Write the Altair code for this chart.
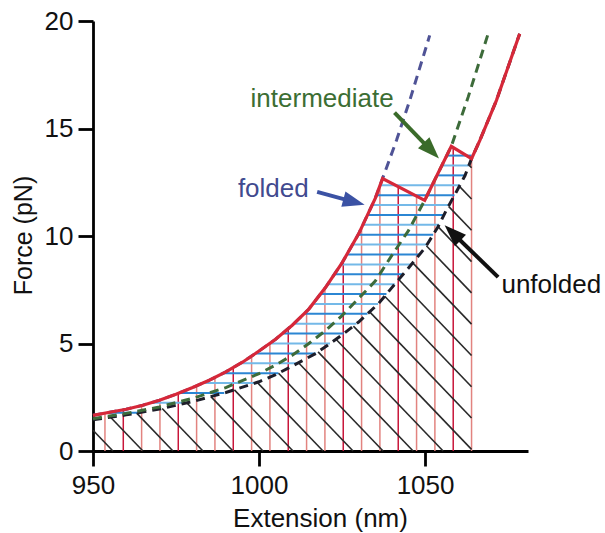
import math
import numpy as np
import pandas as pd
import altair as alt

# ---------------- data ----------------
# red measured force-extension trace (nm, pN)
trace_x = [950, 955, 960, 965, 970, 975, 980, 985, 990, 995, 1000, 1005, 1010, 1015,
           1020, 1025, 1030, 1035, 1037.2, 1049.9, 1057.9, 1064.0, 1066.5, 1071.5, 1078.5]
trace_y = [1.66, 1.80, 1.94, 2.13, 2.36, 2.64, 2.95, 3.29, 3.68, 4.13, 4.65, 5.20, 5.85, 6.60,
           7.60, 8.75, 10.10, 11.75, 12.67, 11.66, 14.17, 13.60, 14.45, 16.31, 19.41]

# folded-state model (blue dashed)
folded_x = [950, 955, 960, 965, 970, 975, 980, 985, 990, 995, 1000, 1005, 1010, 1015,
            1020, 1025, 1030, 1035, 1037.2, 1041.4, 1045.4, 1051.4]
folded_y = [1.66, 1.80, 1.94, 2.13, 2.36, 2.64, 2.95, 3.29, 3.68, 4.13, 4.65, 5.20, 5.85, 6.60,
            7.60, 8.75, 10.10, 11.75, 12.67, 14.45, 16.31, 19.33]

# intermediate-state model (green dashed)
inter_x = [950, 960, 970, 980, 990, 1000, 1005, 1010, 1015, 1020, 1025, 1030, 1035, 1040,
           1045, 1049.9, 1057.9, 1063, 1069]
inter_y = [1.50, 1.75, 2.05, 2.45, 2.95, 3.60, 4.00, 4.45, 5.00, 5.60, 6.30, 7.10, 7.90, 9.10,
           10.25, 11.66, 14.17, 16.47, 19.41]

# unfolded-state model (black dashed)
unf_x = [950, 960, 970, 980, 990, 1000, 1005, 1010, 1017, 1020, 1025, 1030, 1036, 1040,
         1044.4, 1050, 1054, 1056.4, 1059.4, 1062, 1064, 1066.5, 1071.5, 1078.5]
unf_y = [1.45, 1.68, 1.95, 2.30, 2.72, 3.22, 3.55, 3.95, 4.53, 4.85, 5.40, 6.00, 6.86, 7.60,
         8.40, 9.45, 10.45, 11.20, 12.05, 12.80, 13.60, 14.45, 16.31, 19.41]

x_ticks = [950, 1000, 1050]
y_ticks = [0, 5, 10, 15, 20]

# annotation labels (text, x, y, colour)
ann_text = ["intermediate", "folded", "unfolded"]
ann_x = [1019.0, 1004.3, 1073.0]
ann_y = [15.99, 11.80, 7.33]
ann_color = ["#3c6e33", "#414a8f", "#111111"]
ann_align = ["center", "center", "left"]

# arrows: start (x, y) and tip (x, y)
arr_sx = [1040.8, 1017.5, 1072.0]
arr_sy = [15.74, 12.05, 8.09]
arr_tx = [1054.2, 1031.8, 1055.9]
arr_ty = [13.60, 11.45, 10.50]
arr_color = ["#3a6b2a", "#3b52a4", "#111111"]

# hatching parameters
vert_start, vert_step, vert_n = 953.6, 5.52, 21
horiz_start, horiz_step, horiz_n = 1.78, 0.46, 27
diag_start, diag_step, diag_slope = 956.0, 9.04, 0.161
x_right = 1064.0

X_DOMAIN = [950, 1081]
Y_DOMAIN = [0, 20]
W, H = 435, 430
PX_X = W / (X_DOMAIN[1] - X_DOMAIN[0])
PX_Y = H / (Y_DOMAIN[1] - Y_DOMAIN[0])

# ---------------- derived hatch segments ----------------
def first_crossing(y, xs, ys):
    for i in range(len(xs) - 1):
        y0, y1 = ys[i], ys[i + 1]
        if y1 > y0 and y0 <= y <= y1:
            return xs[i] + (y - y0) * (xs[i + 1] - xs[i]) / (y1 - y0)
    return None

vert_rows = []
for k in range(vert_n):
    xv = vert_start + vert_step * k
    yt = float(np.interp(xv, trace_x, trace_y))
    vert_rows.append(dict(x=xv, y=0.0, x2=xv, y2=yt,
                          c="#c8163a" if k % 3 == 1 else "#e2837f"))
vert_df = pd.DataFrame(vert_rows)

hor_rows = []
for j in range(horiz_n):
    yh = horiz_start + horiz_step * j
    xl = first_crossing(yh, trace_x, trace_y)
    xr = min(float(np.interp(yh, unf_y, unf_x)), x_right)
    if xl is not None and xr > xl:
        hor_rows.append(dict(x=xl, y=yh, x2=xr, y2=yh,
                             c="#2b86d3" if j % 2 == 0 else "#74b9e8"))
hor_df = pd.DataFrame(hor_rows)

diag_rows = []
grid = np.linspace(950, x_right, 3000)
ug = np.interp(grid, unf_x, unf_y)
for k in range(30):
    c = diag_start + diag_step * k
    f = ug - diag_slope * (c - grid)
    idx = np.where(f >= 0)[0]
    if len(idx) == 0:
        continue
    xs_ = float(grid[idx[0]])
    xe = min(c, x_right)
    if xs_ >= xe:
        continue
    diag_rows.append(dict(x=xs_, y=diag_slope * (c - xs_), x2=xe, y2=diag_slope * (c - xe)))
diag_df = pd.DataFrame(diag_rows)

# arrows
arr_rows, head_rows = [], []
for i in range(3):
    dxp = (arr_tx[i] - arr_sx[i]) * PX_X
    dyp = -(arr_ty[i] - arr_sy[i]) * PX_Y
    L = math.hypot(dxp, dyp)
    fr = 14.0 / L
    ex = arr_tx[i] - fr * (arr_tx[i] - arr_sx[i])
    ey = arr_ty[i] - fr * (arr_ty[i] - arr_sy[i])
    ang = math.degrees(math.atan2(dxp, -dyp)) % 360
    arr_rows.append(dict(x=arr_sx[i], y=arr_sy[i], x2=ex, y2=ey, c=arr_color[i]))
    head_rows.append(dict(x=arr_tx[i], y=arr_ty[i], a=ang, c=arr_color[i]))
arr_df = pd.DataFrame(arr_rows)
head_df = pd.DataFrame(head_rows)

ann_df = pd.DataFrame(dict(t=ann_text, x=ann_x, y=ann_y, c=ann_color, al=ann_align))

# ---------------- chart ----------------
FONT = "Liberation Sans"
xs = alt.Scale(domain=X_DOMAIN, nice=False, zero=False)
ys = alt.Scale(domain=Y_DOMAIN, nice=False, zero=False)

x_axis = alt.Axis(values=x_ticks, format="d", title="Extension (nm)", grid=False, labelFlush=False,
                  labelOverlap=False, domainColor="#000", domainWidth=2.8, tickColor="#000",
                  tickWidth=2.8, tickSize=15, labelFont=FONT, labelFontSize=26,
                  labelColor="#111", labelPadding=6, titleFont=FONT, titleFontSize=26,
                  titleFontWeight="normal", titleColor="#111", titleX=227, titleY=75,
                  titleBaseline="alphabetic", titleAlign="center")
y_axis = alt.Axis(values=y_ticks, format="d", title="Force (pN)", grid=False, labelFlush=False,
                  labelOverlap=False, domainColor="#000", domainWidth=2.8, tickColor="#000",
                  tickWidth=2.8, tickSize=15, labelFont=FONT, labelFontSize=26,
                  labelColor="#111", labelPadding=5, titleFont=FONT, titleFontSize=25,
                  titleFontWeight="normal", titleColor="#111", titleX=-62, titleY=214,
                  titleBaseline="alphabetic", titleAlign="center", titleAngle=270)

def seg_layer(df, width, color=None):
    enc = dict(x=alt.X("x:Q", scale=xs, axis=x_axis), y=alt.Y("y:Q", scale=ys, axis=y_axis),
               x2="x2:Q", y2="y2:Q")
    if color is None:
        enc["color"] = alt.Color("c:N", scale=None)
        return alt.Chart(df).mark_rule(strokeWidth=width).encode(**enc)
    return alt.Chart(df).mark_rule(strokeWidth=width, color=color).encode(**enc)

verts = seg_layer(vert_df, 1.5)
hors = seg_layer(hor_df, 2.0)
diags = seg_layer(diag_df, 1.6, "#2a2a2a")

def curve(xv, yv, color, width, dash=None):
    df = pd.DataFrame(dict(x=xv, y=yv, o=range(len(xv))))
    kw = dict(color=color, strokeWidth=width)
    if dash:
        kw["strokeDash"] = dash
    return alt.Chart(df).mark_line(**kw).encode(
        x=alt.X("x:Q", scale=xs, axis=x_axis), y=alt.Y("y:Q", scale=ys, axis=y_axis),
        order="o:Q")

unf_line = curve(unf_x, unf_y, "#1e1e2a", 3, [9, 6])
int_line = curve(inter_x, inter_y, "#3d6b3a", 3, [9, 6])
fold_line = curve(folded_x, folded_y, "#4f5396", 3, [9, 6])
trace_line = curve(trace_x, trace_y, "#d62839", 3.2)

arrows = alt.Chart(arr_df).mark_rule(strokeWidth=4).encode(
    x=alt.X("x:Q", scale=xs, axis=x_axis), y=alt.Y("y:Q", scale=ys, axis=y_axis),
    x2="x2:Q", y2="y2:Q", color=alt.Color("c:N", scale=None))
heads = alt.Chart(head_df).mark_point(
    shape="M0,0L0.36,1L-0.36,1Z", filled=True, opacity=1, size=1936, strokeWidth=0).encode(
    x=alt.X("x:Q", scale=xs, axis=x_axis), y=alt.Y("y:Q", scale=ys, axis=y_axis),
    angle=alt.Angle("a:Q", scale=None), color=alt.Color("c:N", scale=None))

texts = []
for al in ["center", "left"]:
    sub = ann_df[ann_df["al"] == al]
    texts.append(alt.Chart(sub).mark_text(
        font=FONT, fontSize=26, align=al, baseline="alphabetic").encode(
        x=alt.X("x:Q", scale=xs, axis=x_axis), y=alt.Y("y:Q", scale=ys, axis=y_axis),
        text="t:N", color=alt.Color("c:N", scale=None)))

chart = alt.layer(verts, hors, diags, unf_line, int_line, fold_line, trace_line,
                  arrows, heads, *texts).properties(
    width=W, height=H,
    autosize=alt.AutoSizeParams(type="none"),
    padding={"left": 93, "top": 21, "right": 77, "bottom": 82},
    background="white",
).configure_view(stroke=None)

chart.save("out.html", embed_options={"renderer": "svg", "actions": False})
